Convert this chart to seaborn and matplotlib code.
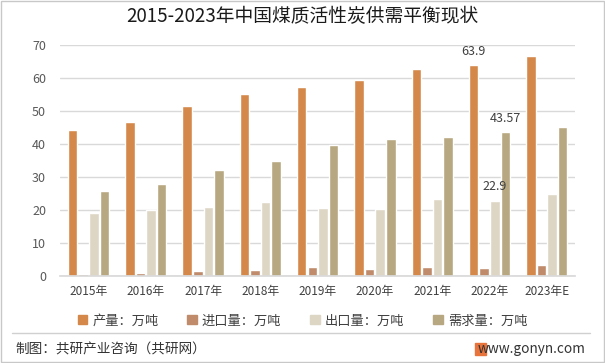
import pandas as pd
import matplotlib.pyplot as plt
import seaborn as sns
from matplotlib.patches import Rectangle
from matplotlib.lines import Line2D

years = ['2015年', '2016年', '2017年', '2018年', '2019年', '2020年', '2021年', '2022年', '2023年E']
production = [44.3, 46.7, 51.5, 55.2, 57.3, 59.4, 62.7, 63.9, 66.7]
imports = [0.7, 1.0, 1.6, 1.9, 2.8, 2.2, 2.8, 2.5, 3.4]
exports = [19.2, 20.0, 21.0, 22.5, 20.7, 20.4, 23.4, 22.9, 24.9]
demand = [25.8, 27.9, 32.2, 34.9, 39.7, 41.6, 42.2, 43.57, 45.2]
series_names = ['产量：万吨', '进口量：万吨', '出口量：万吨', '需求量：万吨']
colors = ['#D4894B', '#BF8B6B', '#DDD6C4', '#B8A881']

df = pd.DataFrame({'year': years * 4,
                   'series': [s for s in series_names for _ in years],
                   'value': production + imports + exports + demand})

sns.set_theme(style='white')
plt.rcParams['font.family'] = ['Noto Sans CJK SC', 'DejaVu Sans']

fig = plt.figure(figsize=(6.05, 3.63), dpi=100)
ax = fig.add_axes([0.099, 0.239, 0.852, 0.637])

sns.barplot(data=df, x='year', y='value', hue='series', palette=colors,
            width=0.74, gap=0.1, ax=ax, legend=False, saturation=1)

ax.set_ylim(0, 70)
ax.set_yticks(range(0, 71, 10))
ax.set_xlim(-0.5, len(years) - 0.5)
ax.grid(axis='y', color='#D9D9D9', linewidth=1)
ax.set_axisbelow(True)
for side in ['left', 'right', 'top']:
    ax.spines[side].set_visible(False)
ax.spines['bottom'].set_color('#D9D9D9')
ax.tick_params(axis='y', labelsize=9, labelcolor='#595959', length=0, pad=10)
ax.tick_params(axis='x', labelsize=8.5, labelcolor='#404040', length=0, pad=6)
ax.set_xlabel('')
ax.set_ylabel('')

# data labels for 2022
containers = ax.containers
labels_2022 = {0: '63.9', 2: '22.9', 3: '43.57'}
for idx, txt in labels_2022.items():
    bar = containers[idx][7]
    ax.text(bar.get_x() + bar.get_width() / 2, bar.get_height() + 2.2, txt,
            ha='center', va='bottom', fontsize=9, color='#404040')

fig.text(0.5, 0.953, '2015-2023年中国煤质活性炭供需平衡现状', ha='center', va='center',
         fontsize=13.5, color='#1a1a1a')

handles = [Rectangle((0, 0), 1, 1, color=c) for c in colors]
fig.legend(handles, series_names, loc='center', bbox_to_anchor=(0.5, 0.116), ncol=4,
           frameon=False, fontsize=9.5, handlelength=0.7, handleheight=0.7,
           handletextpad=0.4, columnspacing=2.2, labelcolor='#404040')

fig.add_artist(Line2D([0.02, 0.975], [0.083, 0.083], color='#D0D0D0', linewidth=1))
fig.text(0.025, 0.038, '制图：共研产业咨询（共研网）', ha='left', va='center',
         fontsize=9.8, color='#333333')
fig.text(0.967, 0.038, 'www.gonyn.com', ha='right', va='center',
         fontsize=9.8, color='#333333')
fig.add_artist(Rectangle((0.785, 0.022), 0.018, 0.032, color='#E8743B', transform=fig.transFigure))

fig.add_artist(Rectangle((0.001, 0.002), 0.997, 0.995, fill=False, edgecolor='#C8C8C8',
                         linewidth=1, transform=fig.transFigure))

fig.savefig('out.png', dpi=100)
